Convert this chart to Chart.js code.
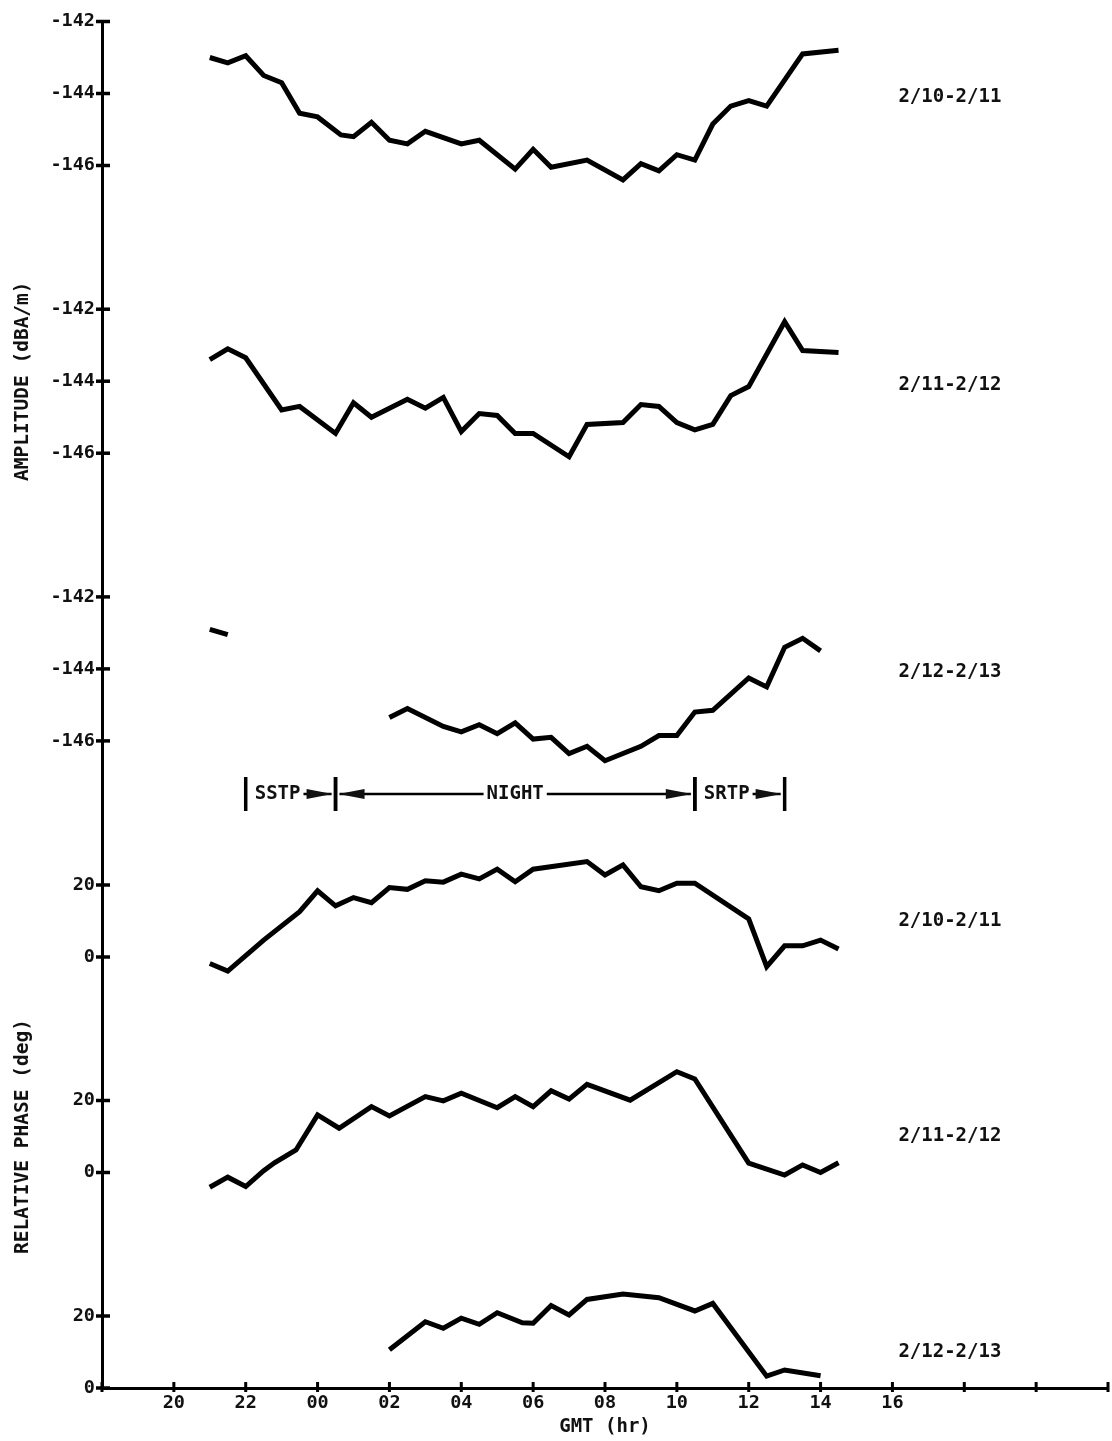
<!DOCTYPE html>
<html>
<head>
<meta charset="utf-8">
<title>Amplitude and relative phase vs GMT</title>
<script src="https://cdn.jsdelivr.net/npm/chart.js@4.4.1/dist/chart.umd.min.js"></script>
<style>
  html, body { margin: 0; padding: 0; background: #fff; }
  canvas { display: block; }
</style>
</head>
<body>
<canvas id="chart" width="1112" height="1441"></canvas>
<script>
// Hours run continuously from 18 GMT on the first day, so 00 GMT = 24 and 16 GMT = 40.
const dateLabels = ['2/10-2/11', '2/11-2/12', '2/12-2/13'];

// Amplitude (dBA/m)
const ampHours1011 = [21.0, 21.5, 22.0, 22.5, 23.0, 23.5, 24.0, 24.65, 25.0, 25.5, 26.0, 26.5, 27.0, 28.0, 28.5, 29.5, 30.0, 30.5, 31.5, 32.5, 33.0, 33.5, 34.0, 34.5, 35.0, 35.5, 36.0, 36.5, 37.5, 38.5];
const ampDb1011    = [-143.0, -143.15, -142.95, -143.5, -143.7, -144.55, -144.65, -145.15, -145.2, -144.8, -145.3, -145.4, -145.05, -145.4, -145.3, -146.1, -145.55, -146.05, -145.85, -146.4, -145.95, -146.15, -145.7, -145.85, -144.85, -144.35, -144.2, -144.35, -142.9, -142.8];

const ampHours1112 = [21.0, 21.5, 22.0, 23.0, 23.5, 24.5, 25.0, 25.5, 26.5, 27.0, 27.5, 28.0, 28.5, 29.0, 29.5, 30.0, 31.0, 31.5, 32.5, 33.0, 33.5, 34.0, 34.5, 35.0, 35.5, 36.0, 37.0, 37.5, 38.5];
const ampDb1112    = [-143.4, -143.1, -143.35, -144.8, -144.7, -145.45, -144.6, -145.0, -144.5, -144.75, -144.45, -145.4, -144.9, -144.95, -145.45, -145.45, -146.1, -145.2, -145.15, -144.65, -144.7, -145.15, -145.35, -145.2, -144.4, -144.15, -142.35, -143.15, -143.2];

const ampHours1213 = [21.0, 21.5, 23.0, 26.0, 26.5, 27.5, 28.0, 28.5, 29.0, 29.5, 30.0, 30.5, 31.0, 31.5, 32.0, 33.0, 33.5, 34.0, 34.5, 35.0, 36.0, 36.5, 37.0, 37.5, 38.0];
const ampDb1213    = [-142.9, -143.05, null, -145.35, -145.1, -145.6, -145.75, -145.55, -145.8, -145.5, -145.95, -145.9, -146.35, -146.15, -146.55, -146.15, -145.85, -145.85, -145.2, -145.15, -144.25, -144.5, -143.4, -143.15, -143.5];

// Relative phase (deg)
const phaseHours1011 = [21.0, 21.5, 22.5, 23.5, 24.0, 24.5, 25.0, 25.5, 26.0, 26.5, 27.0, 27.5, 28.0, 28.5, 29.0, 29.5, 30.0, 31.5, 32.0, 32.5, 33.0, 33.5, 34.0, 34.5, 36.0, 36.5, 37.0, 37.5, 38.0, 38.5];
const phaseDeg1011   = [-1.8, -3.9, 4.7, 12.6, 18.4, 14.2, 16.5, 15.1, 19.3, 18.8, 21.2, 20.8, 23.0, 21.7, 24.4, 20.9, 24.4, 26.5, 22.8, 25.6, 19.5, 18.4, 20.5, 20.5, 10.6, -2.7, 3.1, 3.1, 4.7, 2.2];

const phaseHours1112 = [21.0, 21.5, 22.0, 22.5, 22.8, 23.4, 24.0, 24.6, 25.5, 26.0, 27.0, 27.5, 28.0, 29.0, 29.5, 30.0, 30.5, 31.0, 31.5, 32.7, 34.0, 34.5, 36.0, 37.0, 37.5, 38.0, 38.5];
const phaseDeg1112   = [-4.1, -1.3, -3.9, 0.5, 2.7, 6.25, 16.0, 12.3, 18.3, 15.7, 21.1, 19.9, 22.0, 18.0, 21.1, 18.3, 22.7, 20.4, 24.5, 20.1, 28.0, 26.0, 2.6, -0.7, 2.1, 0.0, 2.7];

const phaseHours1213 = [26.0, 27.0, 27.5, 28.0, 28.5, 29.0, 29.7, 30.0, 30.5, 31.0, 31.5, 32.5, 33.5, 34.5, 35.0, 36.5, 37.0, 38.0];
const phaseDeg1213   = [10.6, 18.4, 16.6, 19.4, 17.7, 20.9, 18.1, 18.0, 22.9, 20.3, 24.6, 26.1, 25.1, 21.4, 23.5, 3.3, 5.0, 3.4];

// Axis ticks
const ampTickValues = [-142, -144, -146];
const phaseTickValues = [20, 0];
const xTickHours  = [18, 20, 22, 24, 26, 28, 30, 32, 34, 36, 38, 40, 42, 44, 46];
const xTickLabels = ['', '20', '22', '00', '02', '04', '06', '08', '10', '12', '14', '16', '', '', ''];

// Transition periods
const periods = [
  { label: 'SSTP',  from: 22.0, to: 24.5 },
  { label: 'NIGHT', from: 24.5, to: 34.5 },
  { label: 'SRTP',  from: 34.5, to: 37.0 }
];

// ---- layout of the stacked panels on one shared vertical scale ----
const Y_MAX = 1367;
const AMP_REF = -142;
const ampBase = [1366.5, 1078.8, 791.1];   // level of -142 dB in each amplitude panel
const AMP_PER_DB = 36;
const phaseBase = [431, 215.5, 0];         // level of 0 deg in each phase panel
const PHASE_PER_DEG = 3.6;
const PERIOD_ROW = 594;
const ampLabelLevel = -144.1;
const phaseLabelLevel = 10;

const ampPos = (k, v) => v == null ? null : ampBase[k] + (v - AMP_REF) * AMP_PER_DB;
const phasePos = (k, v) => v == null ? null : phaseBase[k] + v * PHASE_PER_DEG;

const ampSeries = [[ampHours1011, ampDb1011], [ampHours1112, ampDb1112], [ampHours1213, ampDb1213]];
const phaseSeries = [[phaseHours1011, phaseDeg1011], [phaseHours1112, phaseDeg1112], [phaseHours1213, phaseDeg1213]];

const lineStyle = {
  borderColor: '#000',
  borderWidth: 5,
  pointRadius: 0,
  tension: 0,
  spanGaps: false,
  fill: false,
  borderJoinStyle: 'miter'
};

const datasets = [];
ampSeries.forEach(([hrs, vals], k) => {
  datasets.push(Object.assign({
    label: 'Amplitude ' + dateLabels[k],
    data: hrs.map((h, i) => ({ x: h, y: ampPos(k, vals[i]) }))
  }, lineStyle));
});
phaseSeries.forEach(([hrs, vals], k) => {
  datasets.push(Object.assign({
    label: 'Phase ' + dateLabels[k],
    data: hrs.map((h, i) => ({ x: h, y: phasePos(k, vals[i]) }))
  }, lineStyle));
});

const yTicks = [];
ampBase.forEach((b, k) => ampTickValues.forEach(v => yTicks.push({ value: ampPos(k, v), label: String(v) })));
phaseBase.forEach((b, k) => phaseTickValues.forEach(v => yTicks.push({ value: phasePos(k, v), label: String(v) })));

const FONT = 'DejaVu Sans Mono';
Chart.defaults.font.family = FONT;
Chart.defaults.font.weight = 'bold';
Chart.defaults.color = '#111';

function arrowHead(ctx, tipX, y, dir) {
  const len = 26, half = 5;
  ctx.beginPath();
  ctx.moveTo(tipX, y);
  ctx.lineTo(tipX - dir * len, y - half);
  ctx.lineTo(tipX - dir * len, y + half);
  ctx.closePath();
  ctx.fill();
}
function segment(ctx, x1, y1, x2, y2) {
  ctx.beginPath(); ctx.moveTo(x1, y1); ctx.lineTo(x2, y2); ctx.stroke();
}

const overlay = {
  id: 'overlay',
  afterDraw(chart) {
    const { ctx, chartArea: area, scales: { x, y } } = chart;
    ctx.save();
    ctx.strokeStyle = '#000';
    ctx.fillStyle = '#111';

    // tick marks crossing the axes
    ctx.lineWidth = 3.5;
    y.ticks.forEach(t => {
      const py = y.getPixelForValue(t.value);
      segment(ctx, area.left - 6, py, area.left + 8, py);
    });
    ctx.lineWidth = 3;
    x.ticks.forEach(t => {
      const px = x.getPixelForValue(t.value);
      segment(ctx, px, area.bottom - 6, px, area.bottom + 4);
    });

    // panel date labels
    ctx.font = 'bold 19px ' + FONT;
    ctx.textAlign = 'left';
    ctx.textBaseline = 'middle';
    const labelX = x.getPixelForValue(40) + 6;
    dateLabels.forEach((txt, k) => {
      ctx.fillText(txt, labelX, y.getPixelForValue(ampPos(k, ampLabelLevel)));
      ctx.fillText(txt, labelX, y.getPixelForValue(phasePos(k, phaseLabelLevel)));
    });

    // vertical axis titles
    ctx.font = 'bold 19.5px ' + FONT;
    ctx.textAlign = 'center';
    const ampMid = (y.getPixelForValue(ampPos(0, ampTickValues[0])) + y.getPixelForValue(ampPos(2, ampTickValues[2]))) / 2;
    const phMid = (y.getPixelForValue(phasePos(0, 20)) + y.getPixelForValue(phasePos(2, 0))) / 2;
    [['AMPLITUDE (dBA/m)', ampMid], ['RELATIVE PHASE (deg)', phMid]].forEach(([txt, cy]) => {
      ctx.save();
      ctx.translate(23, cy);
      ctx.rotate(-Math.PI / 2);
      ctx.fillText(txt, 0, 0);
      ctx.restore();
    });

    // transition period brackets
    const ry = y.getPixelForValue(PERIOD_ROW);
    ctx.font = 'bold 19px ' + FONT;
    ctx.textBaseline = 'middle';
    periods.forEach(p => {
      const x1 = x.getPixelForValue(p.from), x2 = x.getPixelForValue(p.to);
      ctx.lineWidth = 3.5;
      segment(ctx, x1, ry - 17, x1, ry + 17);
      segment(ctx, x2, ry - 17, x2, ry + 17);
      ctx.lineWidth = 2.5;
      const w = ctx.measureText(p.label).width;
      if (x2 - x1 > 200) {
        const cx = (x1 + x2) / 2;
        ctx.textAlign = 'center';
        ctx.fillText(p.label, cx, ry);
        segment(ctx, x1 + 4, ry, cx - w / 2 - 3, ry);
        segment(ctx, cx + w / 2 + 3, ry, x2 - 4, ry);
        arrowHead(ctx, x1 + 3, ry, -1);
        arrowHead(ctx, x2 - 3, ry, 1);
      } else {
        ctx.textAlign = 'left';
        ctx.fillText(p.label, x1 + 9, ry);
        segment(ctx, x1 + 9 + w + 3, ry, x2 - 4, ry);
        arrowHead(ctx, x2 - 3, ry, 1);
      }
    });
    ctx.restore();
  }
};

new Chart(document.getElementById('chart'), {
  type: 'line',
  data: { datasets },
  options: {
    responsive: false,
    animation: false,
    devicePixelRatio: 1,
    layout: { padding: { top: 21, left: 0, right: 0, bottom: 0 } },
    plugins: { legend: { display: false }, tooltip: { enabled: false } },
    scales: {
      x: {
        type: 'linear',
        min: 18,
        max: 46,
        afterFit(scale) { scale.height = 53; },
        afterBuildTicks(scale) { scale.ticks = xTickHours.map(v => ({ value: v })); },
        grid: { display: false, drawTicks: false },
        border: { display: true, color: '#000', width: 3 },
        ticks: {
          autoSkip: false,
          maxRotation: 0,
          padding: 4,
          font: { size: 18.5 },
          color: '#111',
          callback: (value, index) => xTickLabels[index]
        },
        title: {
          display: true,
          text: 'GMT (hr)',
          font: { size: 19 },
          color: '#111',
          padding: { top: 0, bottom: 3 }
        }
      },
      y: {
        type: 'linear',
        min: 0,
        max: Y_MAX,
        afterFit(scale) { scale.width = 102; },
        afterBuildTicks(scale) { scale.ticks = yTicks.map(t => ({ value: t.value })); },
        grid: { display: false, drawTicks: false },
        border: { display: true, color: '#000', width: 3 },
        ticks: {
          autoSkip: false,
          padding: 7,
          font: { size: 18.5 },
          color: '#111',
          callback: (value, index) => yTicks[index].label
        }
      }
    }
  },
  plugins: [overlay]
});
</script>
</body>
</html>
